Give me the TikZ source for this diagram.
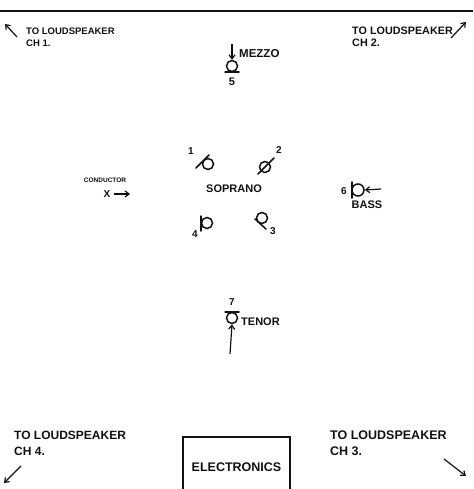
\documentclass[tikz,border=0pt]{standalone}
\usepackage{fontspec}
\setmainfont{Liberation Sans}
\usetikzlibrary{arrows.meta,calc}
\definecolor{Ink}{HTML}{111111}
\tikzset{
  arr/.style={draw=Ink,line width=1.2pt,-{Straight Barb[length=4pt,width=6pt]}},
  bar/.style={draw=Ink,line width=1.5pt,line cap=round},
  mic/.style={circle,draw=Ink,line width=1.5pt,minimum size=11pt,inner sep=0pt},
  tx/.style={font=\bfseries,text=Ink,inner sep=0pt},
  num/.style={font=\bfseries\fontsize{10}{10}\selectfont,text=Ink,inner sep=0pt},
  spk/.style={tx,anchor=north west,align=left},
}
\begin{document}
\begin{tikzpicture}[x=1pt,y=-1pt]
\useasboundingbox (0,0) rectangle (473,489);
% -top rule-
\coordinate (rl) at (0,11);
\coordinate (rr) at (473,11);
\draw[draw=Ink,line width=1.5pt] (rl) -- (rr);
% -loudspeakers-
\node[spk,font=\bfseries\fontsize{9.5}{12}\selectfont] (ch1) at (26,28) {TO LOUDSPEAKER\\CH 1.};
\coordinate (ch1a) at (17,37);
\coordinate (ch1b) at (5,24);
\draw[arr] (ch1a) -- (ch1b);
\node[spk,font=\bfseries\fontsize{10.8}{12}\selectfont] (ch2) at (352,27) {TO LOUDSPEAKER\\CH 2.};
\coordinate (ch2a) at (451,38);
\coordinate (ch2b) at (466,22);
\draw[arr] (ch2a) -- (ch2b);
\node[spk,font=\bfseries\fontsize{12}{16}\selectfont] (ch4) at (14,431) {TO LOUDSPEAKER\\CH 4.};
\coordinate (ch4a) at (21,466);
\coordinate (ch4b) at (4,483);
\draw[arr] (ch4a) -- (ch4b);
\node[spk,font=\bfseries\fontsize{12.5}{16}\selectfont] (ch3) at (330,431) {TO LOUDSPEAKER\\CH 3.};
\coordinate (ch3a) at (444,459);
\coordinate (ch3b) at (466,476);
\draw[arr] (ch3a) -- (ch3b);
% -mezzo-
\node[mic] (p5) at (232,66) {};
\draw[bar] ($(p5)+(-7,6)$) -- ($(p5)+(7,6)$);
\node[num,font=\bfseries\fontsize{11}{11}\selectfont] (n5) at (232,82) {5};
\coordinate (mz) at (232,44);
\draw[arr] (mz) -- (p5.north);
\node[tx,anchor=west,font=\bfseries\fontsize{11.5}{12}\selectfont] (mezzo) at (239,54) {MEZZO};
% -sopranos-
\node[tx,font=\bfseries\fontsize{11}{12}\selectfont] (sop) at (234,189) {SOPRANO};
\node[mic] (p1) at (208,164) {};
\draw[bar] ($(p1)+(-12,4)$) -- ($(p1)+(1,-9)$);
\node[num] (n1) at (191,151) {1};
\node[mic] (p2) at (265,167) {};
\draw[bar] ($(p2)+(-7,7)$) -- ($(p2)+(9,-9)$);
\node[num] (n2) at (279,150) {2};
\node[mic] (p3) at (262,218) {};
\draw[bar] ($(p3)+(-7,1)$) -- ($(p3)+(4,11)$);
\node[num] (n3) at (273,231) {3};
\node[mic] (p4) at (207,223) {};
\draw[bar] ($(p4)+(-6,-7)$) -- ($(p4)+(-6,8)$);
\node[num] (n4) at (195,234) {4};
% -conductor-
\node[tx,font=\bfseries\fontsize{6.5}{7}\selectfont] (cond) at (105,180) {CONDUCTOR};
\node[tx,font=\bfseries\fontsize{10}{10}\selectfont] (cx) at (107,194) {X};
\coordinate (cxe) at (130,194);
\draw[arr] ([xshift=3pt]cx.east) -- (cxe);
% -bass-
\node[mic,minimum size=12pt] (p6) at (358,190) {};
\draw[bar] ($(p6)+(-6,-8)$) -- ($(p6)+(-6,8)$);
\node[num] (n6) at (344,191) {6};
\coordinate (bs) at (381,189);
\draw[arr] (bs) -- (p6.east);
\node[tx,font=\bfseries\fontsize{11}{12}\selectfont] (bass) at (367,205) {BASS};
% -tenor-
\node[mic] (p7) at (232,318) {};
\draw[bar] ($(p7)+(-7,-6)$) -- ($(p7)+(7,-6)$);
\node[num] (n7) at (232,302) {7};
\node[tx,anchor=west,font=\bfseries\fontsize{11}{12}\selectfont] (tenor) at (241,322) {TENOR};
\coordinate (tn) at (230,354);
\draw[arr] (tn) -- (p7.south);
% -electronics-
\node[draw=Ink,line width=1.4pt,minimum width=107pt,minimum height=60pt,inner sep=0pt] (elec) at (236.5,467) {};
\node[tx,font=\bfseries\fontsize{12.5}{13}\selectfont] (eltx) at (236.5,467) {ELECTRONICS};
\end{tikzpicture}
\end{document}
